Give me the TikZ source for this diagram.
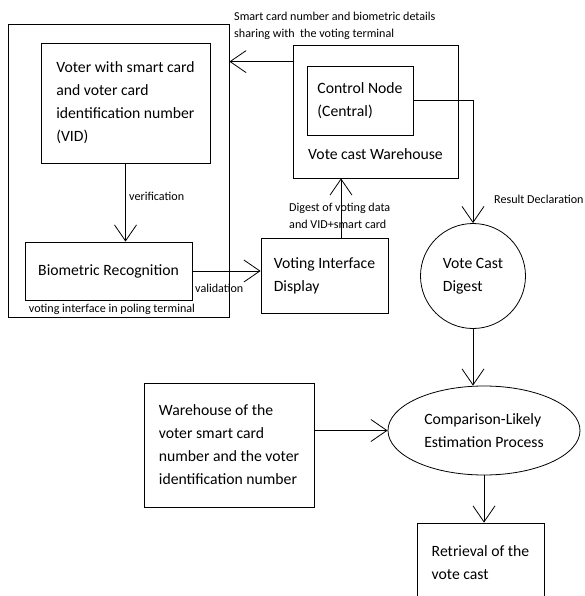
\documentclass[tikz,border=0pt]{standalone}
\usepackage{fontspec}
\setmainfont{Carlito}
\usetikzlibrary{arrows.meta,shapes.geometric}

\begin{document}
\begin{tikzpicture}[x=1pt,y=-1pt]
    \tikzstyle{box}=[draw,rectangle,line width=0.8pt,align=left,inner sep=0,font=\fontsize{15.7}{23}\selectfont]
    \tikzstyle{lbl}=[inner sep=0,align=left,font=\fontsize{12.1}{17}\selectfont]
    \tikzstyle{arr}=[line width=0.8pt,-{Straight Barb[length=16pt,width=22pt]}]
    \clip (0,0) rectangle (584,596);
    \path[fill=white] (0,0) rectangle (584,596);
    \path (118.5,170.5) node[box,minimum width=221,minimum height=293] (terminal) {};
    \path (125.5,103) node[box,minimum width=169,minimum height=120] (voter) {Voter with smart card\\and voter card\\identification number\\(VID)};
    \path (108.5,271) node[box,minimum width=167,minimum height=58] (bio) {Biometric Recognition};
    \path (112,309) node[lbl] (termlbl) {voting interface in poling terminal};
    \path (324.5,275.5) node[box,minimum width=127,minimum height=75] (vid) {Voting Interface\\Display};
    \path (375.5,111.5) node[box,minimum width=165,minimum height=133] (wh) {};
    \path (360,100.5) node[box,minimum width=106,minimum height=69] (ctrl) {Control Node\\(Central)};
    \path (wh.south) ++(0,-24) node[box,draw=none] (whlbl) {Vote cast Warehouse};
    \path (473,276) node[box,circle,minimum size=105] (digest) {Vote Cast\\Digest};
    \path (484,430.5) node[box,ellipse,minimum width=192,minimum height=89] (cmp) {Comparison-Likely\\Estimation Process};
    \path (229,445) node[box,minimum width=170,minimum height=124] (store) {Warehouse of the\\voter smart card\\number and the voter\\identification number};
    \path (480.5,563) node[box,minimum width=127,minimum height=80] (ret) {Retrieval of the\\vote cast};
    \draw[arr] ([yshift=-17pt]wh.north west) -- ([yshift=-17pt]wh.north west -| terminal.east);
    \path (234,25.5) node[lbl,anchor=west] (sharelbl) {Smart card number and biometric details\\sharing with\ \ the voting terminal};
    \draw[arr] (voter.south) -- (voter.south |- bio.north);
    \path (129,196) node[lbl,anchor=west] (verlbl) {verification};
    \draw[arr] (bio.east) -- (bio.east -| vid.west);
    \path (195,288) node[lbl,anchor=west] (vallbl) {validation};
    \draw[arr] ([xshift=16.5pt]vid.north) -- ([xshift=16.5pt]vid.north |- wh.south);
    \path (289,215.5) node[lbl,anchor=west] (diglbl) {Digest of voting data\\and VID+smart card};
    \draw[arr] (ctrl.east) -| (digest.north);
    \path (494,199) node[lbl,anchor=west] (reslbl) {Result Declaration};
    \draw[arr] (digest.south) -- (digest.south |- cmp.north);
    \draw[arr] (store.east |- cmp.west) -- (cmp.west);
    \draw[arr] (cmp.south) -- (cmp.south |- ret.north);
\end{tikzpicture}
\end{document}
